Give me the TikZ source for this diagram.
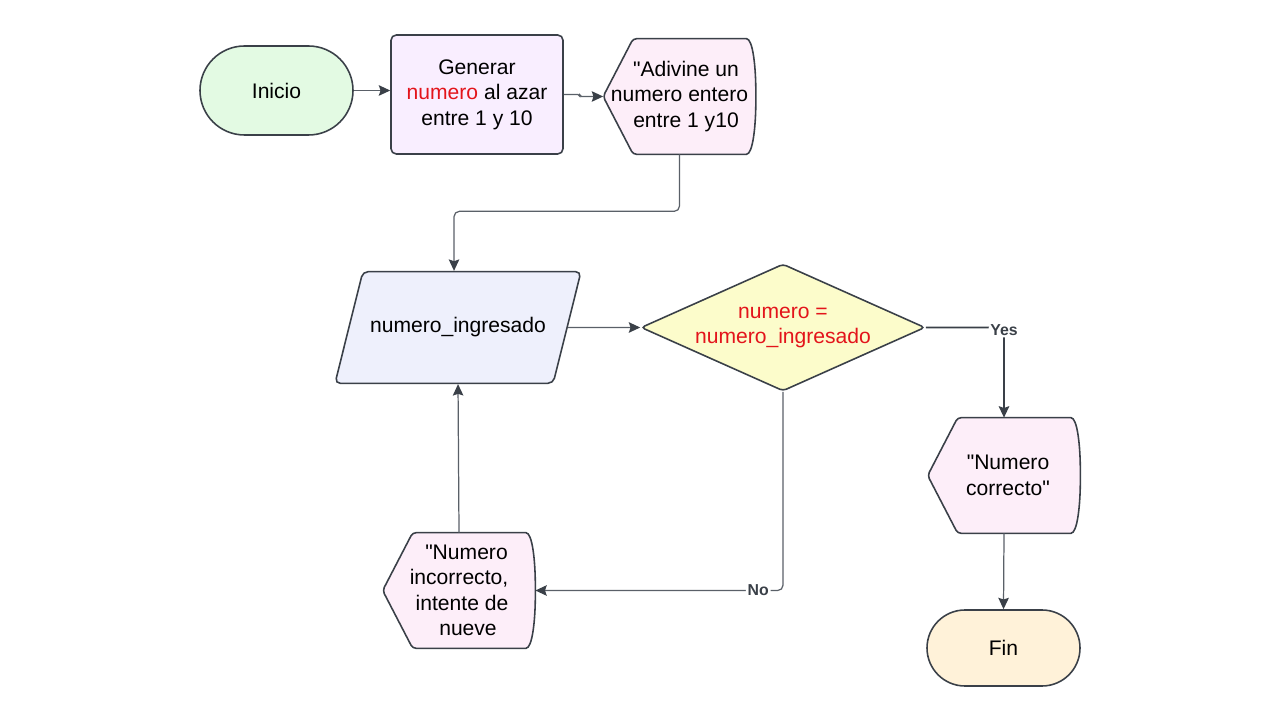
\documentclass[tikz,border=0pt]{standalone}
\usepackage{fontspec}
\setmainfont{Liberation Sans}[Ligatures=TeXOff]
\usepackage{tikz}
\usetikzlibrary{arrows.meta,shapes.geometric,shapes.misc,backgrounds}

\definecolor{linec}{HTML}{3A4048}
\definecolor{conc}{HTML}{5A6068}
\definecolor{greenc}{HTML}{E3FAE3}
\definecolor{lilac}{HTML}{F9EEFF}
\definecolor{pinkc}{HTML}{FDEEF9}
\definecolor{bluec}{HTML}{EEF0FC}
\definecolor{yellowc}{HTML}{FCFCCB}
\definecolor{beigec}{HTML}{FFF2D9}
\definecolor{redtxt}{HTML}{E3141B}

\tikzset{
  base/.style={draw=linec,line width=0.9pt,align=center,inner sep=0pt,
               font=\fontsize{12}{14.5}\selectfont},
  term/.style={base,rounded rectangle,minimum width=3.06cm},
  procbox/.style={base,rectangle,rounded corners=3pt,fill=lilac,
                  minimum width=3.44cm,minimum height=2.38cm},
  iobox/.style={base,trapezium,trapezium left angle=76,trapezium right angle=104,
                trapezium stretches body,rounded corners=3pt,fill=bluec,
                inner xsep=0pt,inner ysep=0.92cm,minimum width=4.92cm},
  decbox/.style={base,diamond,aspect=2.24,rounded corners=2pt,fill=yellowc,
                 minimum width=5.68cm,minimum height=2.54cm},
  dispbox/.style={align=center,inner sep=0pt,font=\fontsize{12}{14.5}\selectfont,
                  minimum width=3.04cm,minimum height=2.3cm},
  displine/.style={draw=linec,fill=pinkc,line width=0.9pt,rounded corners=2pt},
  con/.style={draw=conc,line width=0.7pt,rounded corners=3pt},
  lbl/.style={fill=white,inner sep=1pt,text=linec,font=\bfseries\fontsize{9}{10}\selectfont}
}

% outline of a display box: #1 node name
\newcommand{\dispout}[1]{%
  \begin{scope}[on background layer]
    \path[displine] (#1.west) -- ([xshift=0.6cm]#1.north west)
      -- ([xshift=-0.26cm]#1.north east)
      .. controls ([xshift=-0.06cm]#1.north east) and ([yshift=0.6cm]#1.east) .. (#1.east)
      .. controls ([yshift=-0.6cm]#1.east) and ([xshift=-0.06cm]#1.south east) .. ([xshift=-0.26cm]#1.south east)
      -- ([xshift=0.6cm]#1.south west) -- cycle;
  \end{scope}}

\begin{document}
\begin{tikzpicture}[>={Stealth[length=6.5pt,width=6pt,inset=1pt,color=linec]}]
  \useasboundingbox (0,0) rectangle (25.6,14.4);

  % first row
  \node[term,fill=greenc,minimum height=1.78cm] (ini) at (5.53,12.59) {Inicio};
  \node[procbox] (gen)  at (9.54,12.51) {Generar\\ \textcolor{redtxt}{numero} al azar\\ entre 1 y 10\\[-0.42cm]};
  \node[dispbox] (adiv) at (13.59,12.47) {\hspace{0.26cm}"Adivine un\\ numero entero\\ \hspace{0.26cm}entre 1 y10};

  % middle row
  \node[iobox]  (ing) at (9.16,7.85) {numero\_ingresado};
  \node[decbox] (dec) at (15.66,7.85) {\textcolor{redtxt}{numero =}\\ \textcolor{redtxt}{numero\_ingresado}};

  % bottom
  \node[dispbox] (cor) at (20.08,4.89) {\hspace{0.16cm}"Numero\\ \hspace{0.16cm}correcto"};
  \node[term,fill=beigec,minimum height=1.52cm] (fin) at (20.07,1.44) {Fin};
  \node[dispbox] (inc) at (9.18,2.59) {\hspace{0.3cm}"Numero\\ incorrecto,\\ \hspace{0.12cm}intente de\\ \hspace{0.36cm}nueve};

  \dispout{adiv}
  \dispout{cor}
  \dispout{inc}

  % connectors
  \draw[con,->] (ini.east) -- (ini.east -| gen.west);
  \draw[con,->,rounded corners=1pt] (gen.east) -- ++(0.32,0) |- (adiv.west);
  \draw[con,->] (adiv.south) -- ++(0,-1.14) -| ([xshift=-0.08cm]ing.north);
  \draw[con,->] (ing.east) -- (dec.west);
  \draw[con,->,draw=linec,line width=1pt] (dec.east) -| node[lbl,pos=0.5,yshift=-0.05cm] {Yes} (cor.north);
  \draw[con,->] (cor.south) -- (fin.north);
  \draw[con,->] (dec.south) |- node[lbl,pos=0.55] {No} (inc.east);
  \draw[con,->] (inc.north) -- (ing.south);
\end{tikzpicture}
\end{document}
